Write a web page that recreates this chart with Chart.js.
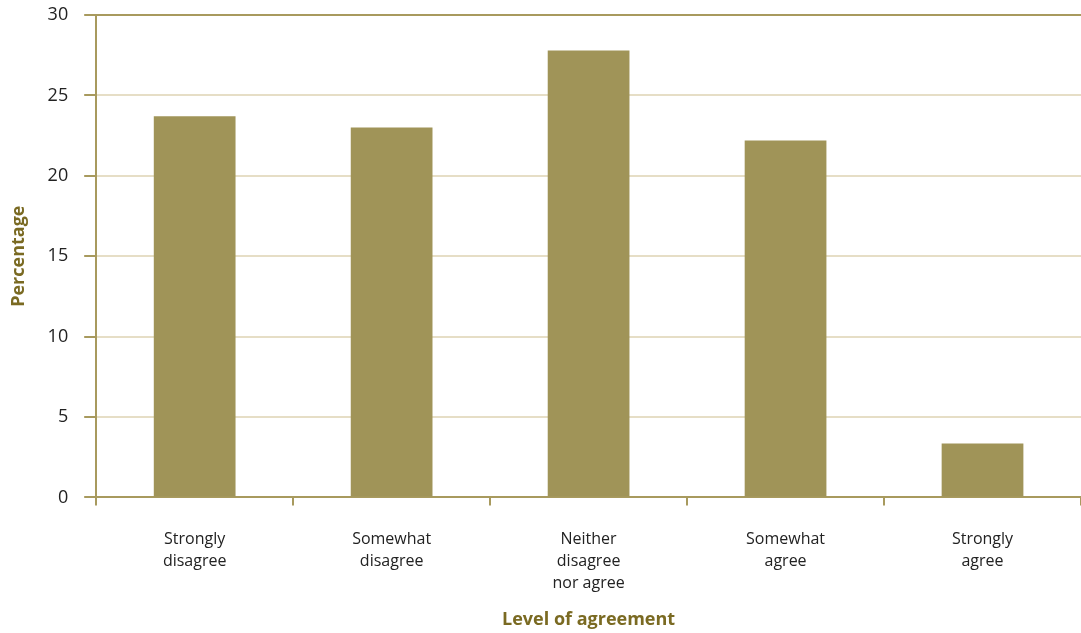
<!DOCTYPE html>
<html>
<head>
<meta charset="utf-8">
<script src="https://cdn.jsdelivr.net/npm/chart.js@4/dist/chart.umd.min.js"></script>
<style>
  html, body { margin: 0; padding: 0; background: #ffffff; }
  #wrap { width: 1081px; height: 633px; }
</style>
</head>
<body>
<div id="wrap"><canvas id="agreement-chart"></canvas></div>
<script>
const categories = [
    ['Strongly', 'disagree'],
    ['Somewhat', 'disagree'],
    ['Neither', 'disagree', 'nor agree'],
    ['Somewhat', 'agree'],
    ['Strongly', 'agree'],
];
const percentages = [23.7, 23.0, 27.8, 22.2, 3.35];
const yTicks = [0, 5, 10, 15, 20, 25, 30];

const gold = '#a89a5e';
const gridBeige = '#e6dec6';
const titleColor = '#7a6a22';
const font = '"Open Sans", "Noto Sans", sans-serif';

new Chart(document.getElementById('agreement-chart'), {
    type: 'bar',
    data: {
        labels: categories,
        datasets: [
            {
                label: 'Percentage',
                data: percentages,
                backgroundColor: '#a09458',
                borderWidth: 0,
                categoryPercentage: 1,
                barPercentage: 0.415,
            },
        ],
    },
    options: {
        responsive: true,
        maintainAspectRatio: false,
        animation: false,
        layout: {
            padding: { top: 15, right: 0, bottom: 2, left: 0 },
        },
        scales: {
            x: {
                grid: {
                    offset: true,
                    drawOnChartArea: false,
                    drawTicks: true,
                    tickLength: 8,
                    tickColor: gold,
                    lineWidth: 2,
                },
                border: { color: gold, width: 2 },
                ticks: {
                    color: '#222222',
                    padding: 23,
                    maxRotation: 0,
                    autoSkip: false,
                    font: { family: font, size: 16, lineHeight: 1.375 },
                },
                title: {
                    display: true,
                    text: 'Level of agreement',
                    color: titleColor,
                    padding: { top: -8, bottom: 0 },
                    font: { family: font, size: 18, weight: 'bold' },
                },
            },
            y: {
                min: 0,
                max: 30,
                afterBuildTicks: (axis) => {
                    axis.ticks = yTicks.map((v) => ({ value: v }));
                },
                // the label padding would otherwise push the plot top down
                afterFit: (axis) => {
                    axis.paddingTop = 0;
                    axis.paddingBottom = 0;
                },
                grid: {
                    color: (ctx) => (ctx.tick && ctx.tick.value === 30 ? gold : gridBeige),
                    lineWidth: 2,
                    tickLength: 12,
                    tickColor: gold,
                },
                border: { color: gold, width: 2 },
                ticks: {
                    color: '#222222',
                    padding: 16,
                    font: { family: font, size: 18 },
                },
                title: {
                    display: true,
                    text: 'Percentage',
                    color: titleColor,
                    padding: { top: 8, bottom: 2 },
                    font: { family: font, size: 18, weight: 'bold' },
                },
            },
        },
        plugins: {
            legend: { display: false },
            tooltip: { enabled: false },
        },
    },
});
</script>
</body>
</html>
